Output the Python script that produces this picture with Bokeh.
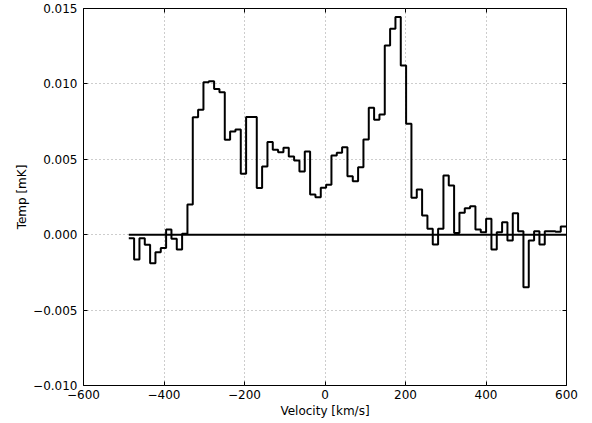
from bokeh.plotting import figure
from bokeh.embed import file_html
from bokeh.resources import INLINE
from bokeh.models import (FixedTicker, CustomJSTickFormatter, LinearAxis, Title,
                          Range1d, GlobalInlineStyleSheet, CustomLabelingPolicy)

# channel edges of the velocity axis [km/s]
velocity_edges = [
    -487.5, -474.25, -461.0, -447.75, -434.5, -421.25, -408.0, -394.75, -381.5, -368.25,
    -355.0, -341.75, -328.5, -315.25, -302.0, -288.75, -275.5, -262.25, -249.0, -235.75,
    -222.5, -209.25, -196.0, -182.75, -169.5, -156.25, -143.0, -129.75, -116.5, -103.25,
    -90.0, -76.75, -63.5, -50.25, -37.0, -23.75, -10.5, 2.75, 16.0, 29.25,
    42.5, 55.75, 69.0, 82.25, 95.5, 108.75, 122.0, 135.25, 148.5, 161.75,
    175.0, 188.25, 201.5, 214.75, 228.0, 241.25, 254.5, 267.75, 281.0, 294.25,
    307.5, 320.75, 334.0, 347.25, 360.5, 373.75, 387.0, 400.25, 413.5, 426.75,
    440.0, 453.25, 466.5, 479.75, 493.0, 506.25, 519.5, 532.75, 546.0, 559.25,
    572.5, 585.75, 599.0,
]

# temperature per channel [mK]
temp = [
    -0.00023, -0.00164, -0.00023, -0.00067, -0.00189, -0.00116, -0.00089, 0.00034, -0.00027, -0.00098,
    0.00006, 0.00200, 0.00779, 0.00828, 0.01011, 0.01018, 0.00967, 0.00945, 0.00629, 0.00684,
    0.00698, 0.00404, 0.00780, 0.00780, 0.00309, 0.00452, 0.00614, 0.00563, 0.00547, 0.00576,
    0.00519, 0.00492, 0.00419, 0.00552, 0.00267, 0.00249, 0.00311, 0.00331, 0.00525, 0.00543,
    0.00580, 0.00388, 0.00355, 0.00448, 0.00631, 0.00842, 0.00762, 0.00797, 0.01255, 0.01365,
    0.01443, 0.01122, 0.00735, 0.00245, 0.00300, 0.00127, 0.00039, -0.00065, 0.00039, 0.00393,
    0.00326, 0.00012, 0.00145, 0.00176, 0.00189, 0.00034, 0.00017, 0.00105, -0.00098, 0.00017,
    0.00083, -0.00038, 0.00143, 0.00023, -0.00348, -0.00038, 0.00023, -0.00065, 0.00023, 0.00023,
    0.00020, 0.00054,
]

baseline = [0.0, 0.0]

x_ticks = [-600, -400, -200, 0, 200, 400, 600]
y_ticks = [-0.010, -0.005, 0.000, 0.005, 0.010, 0.015]

FONT = "DejaVu Sans"

p = figure(width=592, height=423, output_backend="svg", toolbar_location=None,
           x_range=Range1d(-600, 600), y_range=Range1d(-0.010, 0.015),
           min_border_left=83, min_border_right=26, min_border_top=8, min_border_bottom=38,
           x_axis_label="Velocity [km/s]")
p.stylesheets = [GlobalInlineStyleSheet(css="html, body { margin: 0 !important; padding: 0; overflow: hidden; }")]

p.background_fill_color = "white"
p.border_fill_color = "white"
p.outline_line_color = "black"
p.outline_line_width = 1
p.outline_line_alpha = 1.0

# grid
for g in (p.xgrid, p.ygrid):
    g.grid_line_color = "#9a9a9a"
    g.grid_line_dash = "1 3"
    g.grid_line_width = 1
p.xgrid.ticker = FixedTicker(ticks=x_ticks)
p.ygrid.ticker = FixedTicker(ticks=y_ticks)

xfmt = CustomJSTickFormatter(code="return (tick < 0 ? '\u2212' : '') + Math.abs(tick).toFixed(0);")
yfmt = CustomJSTickFormatter(code="return (tick < 0 ? '\u2212' : '') + Math.abs(tick).toFixed(3);")

def style_axis(ax, ticks, fmt, show_labels):
    ax.ticker = FixedTicker(ticks=ticks)
    ax.formatter = fmt
    ax.minor_tick_line_color = None
    ax.major_tick_in = 4
    ax.major_tick_out = 0
    ax.major_tick_line_color = "black"
    ax.major_tick_line_width = 1
    ax.axis_line_color = None
    ax.major_label_text_font = FONT
    ax.major_label_text_color = "black"
    ax.major_label_text_font_size = "12px"
    if not show_labels:
        # tick marks only (matplotlib style mirrored ticks), no labels drawn
        ax.major_label_policy = CustomLabelingPolicy(code="return new Set()")
        ax.major_label_text_font_size = "0px"
        ax.major_label_standoff = 0

xa = p.xaxis[0]
ya = p.yaxis[0]
style_axis(xa, x_ticks, xfmt, True)
style_axis(ya, y_ticks, yfmt, True)
xa.major_label_standoff = 4
ya.major_label_standoff = 6
xa.axis_label_text_font = FONT
xa.axis_label_text_font_size = "12px"
xa.axis_label_text_font_style = "normal"
xa.axis_label_text_color = "black"
xa.axis_label_standoff = 2

top = LinearAxis()
style_axis(top, x_ticks, xfmt, False)
p.add_layout(top, "above")
right = LinearAxis()
style_axis(right, y_ticks, yfmt, False)
p.add_layout(right, "right")

# y axis title, set beside the tick labels like matplotlib does
ytitle = Title(text="Temp [mK]", align="center", text_font=FONT, text_font_size="12px",
               text_font_style="normal", text_color="black", standoff=4)
p.add_layout(ytitle, "left")

# zero line and spectrum
p.line([velocity_edges[0], velocity_edges[-1]], baseline, line_color="black", line_width=2)
p.step(velocity_edges, temp + [temp[-1]], mode="after", line_color="black", line_width=2)

open("out.html", "w").write(file_html(p, INLINE))
